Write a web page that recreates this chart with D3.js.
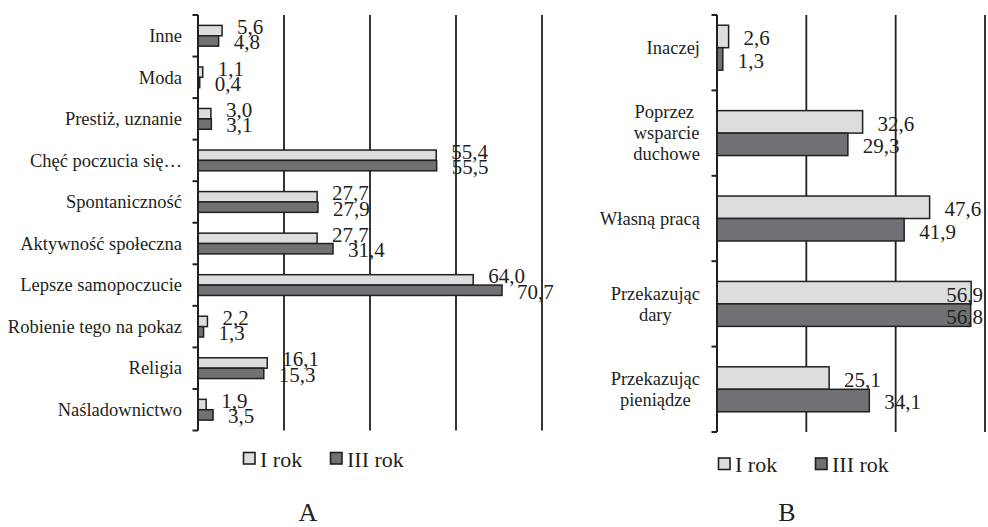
<!DOCTYPE html>
<html><head><meta charset="utf-8">
<script src="https://cdn.jsdelivr.net/npm/d3@7"></script>
</head><body style="margin:0;background:#fff">
<svg id="c" width="988" height="527" style="display:block"></svg>
<script>
const series = ["I rok", "III rok"];
const categoriesA = ["Inne","Moda","Prestiż, uznanie","Chęć poczucia się…","Spontaniczność","Aktywność społeczna","Lepsze samopoczucie","Robienie tego na pokaz","Religia","Naśladownictwo"];
const rok1A = [5.6,1.1,3.0,55.4,27.7,27.7,64.0,2.2,16.1,1.9];
const rok3A = [4.8,0.4,3.1,55.5,27.9,31.4,70.7,1.3,15.3,3.5];
const ticksA = [20,40,60,80];
const categoriesB = ["Inaczej","Poprzez\u00a0\nwsparcie\nduchowe","Własną pracą","Przekazując\ndary","Przekazując\npieniądze"];
const rok1B = [2.6,32.6,47.6,56.9,25.1];
const rok3B = [1.3,29.3,41.9,56.8,34.1];
const ticksB = [20,40,60];
const panelTitles = ["A","B"];

const FONT = "Liberation Serif";
const svg = d3.select("#c");
const INK = "#231f20", LIGHT = "#dcdddf", DARK = "#707174";
const fmt = v => d3.format(".1f")(v).replace(".", ",");
function txt(sel) { return sel.append("text").style("font-family", FONT).attr("fill", INK); }

function panel(cfg) {
  const g = svg.append("g");
  const x = d3.scaleLinear().domain([0, cfg.max]).range([cfg.x0, cfg.x1]);
  const y = d3.scaleBand().domain(cfg.cats).range([cfg.yTop, cfg.yBot]).paddingInner(0).paddingOuter(0);
  const ys = d3.scaleBand().domain(series).range([0, y.bandwidth()]).paddingInner(0).paddingOuter(cfg.pad);
  const rows = cfg.cats.map((c, i) => ({c, vals: [cfg.s1[i], cfg.s3[i]]}));

  // gridlines
  g.selectAll(".grid").data(cfg.ticks).enter().append("line")
    .attr("x1", d => x(d)).attr("x2", d => x(d))
    .attr("y1", cfg.axisTop).attr("y2", cfg.yBot)
    .attr("stroke", INK).attr("stroke-width", 1.8);

  // bars
  rows.forEach(r => {
    series.forEach((s, j) => {
      g.append("rect")
        .attr("x", x(0)).attr("y", y(r.c) + ys(s))
        .attr("width", x(r.vals[j]) - x(0)).attr("height", ys.bandwidth())
        .attr("fill", j === 0 ? LIGHT : DARK)
        .attr("stroke", INK).attr("stroke-width", 1.5);
    });
  });

  // axis line + ticks at band boundaries
  g.append("line").attr("x1", x(0)).attr("x2", x(0)).attr("y1", cfg.axisTop).attr("y2", cfg.yBot)
    .attr("stroke", INK).attr("stroke-width", 2);
  const bounds = cfg.cats.map(c => Math.max(y(c), cfg.axisTop)).concat([cfg.yBot]);
  g.selectAll(".tk").data(bounds).enter().append("line")
    .attr("x1", x(0) - 5.5).attr("x2", x(0)).attr("y1", d => d).attr("y2", d => d)
    .attr("stroke", INK).attr("stroke-width", 2);

  // data labels
  rows.forEach(r => {
    series.forEach((s, j) => {
      const v = r.vals[j];
      const cy = y(r.c) + ys(s) + ys.bandwidth() / 2 + cfg.labDy[j];
      const t = txt(g).attr("font-size", 21).text(fmt(v))
        .attr("x", x(v) + 15).attr("y", cy);
      const w = t.node().getComputedTextLength();
      if (x(v) + 15 + w > cfg.labelLimit) {
        t.attr("text-anchor", "end").attr("x", cfg.labelLimit - 5);
      }
    });
  });

  // category labels
  rows.forEach(r => {
    const lines = r.c.split("\n");
    const cy = y(r.c) + y.bandwidth() / 2;
    const t = txt(g).attr("font-size", 18.5);
    const tsp = lines.map((ln, i) => t.append("tspan").text(ln)
      .attr("y", cy + (i - (lines.length - 1) / 2) * cfg.lineH + 6.3));
    let maxW = 0;
    tsp.forEach(ts => { maxW = Math.max(maxW, ts.node().getComputedTextLength()); });
    const cx = cfg.labelRight - maxW / 2;
    t.attr("text-anchor", "middle");
    tsp.forEach(ts => ts.attr("x", cx));
  });

  // legend
  const lg = g.append("g");
  series.forEach((s, j) => {
    const bx = cfg.legX[j];
    lg.append("rect").attr("x", bx).attr("y", cfg.legY).attr("width", 11.5).attr("height", 11.5)
      .attr("fill", j === 0 ? LIGHT : DARK).attr("stroke", INK).attr("stroke-width", 1.6);
    txt(lg).attr("x", bx + 16.5).attr("y", cfg.legY + 14).attr("font-size", 22).text(s);
  });

  txt(g).attr("x", cfg.titleX).attr("y", 521).attr("text-anchor", "middle")
    .attr("font-size", 26).text(cfg.title);
}

panel({cats: categoriesA, s1: rok1A, s3: rok3A, max: 80, ticks: ticksA,
  x0: 198, x1: 542, yTop: 15, yBot: 430.5, axisTop: 15, pad: 1,
  labDy: [3.4, 8.4], labelLimit: 600, labelRight: 182, lineH: 21,
  legX: [243.5, 330.5], legY: 452.5, titleX: 308, title: panelTitles[0]});

panel({cats: categoriesB, s1: rok1B, s3: rok3B, max: 60, ticks: ticksB,
  x0: 717, x1: 985, yTop: 5, yBot: 432, axisTop: 15, pad: 0.9,
  labDy: [8.9, 8.9], labelLimit: 988, labelRight: 700, lineH: 21,
  legX: [718.5, 815.5], legY: 458, titleX: 787, title: panelTitles[1]});
</script>
</body></html>
